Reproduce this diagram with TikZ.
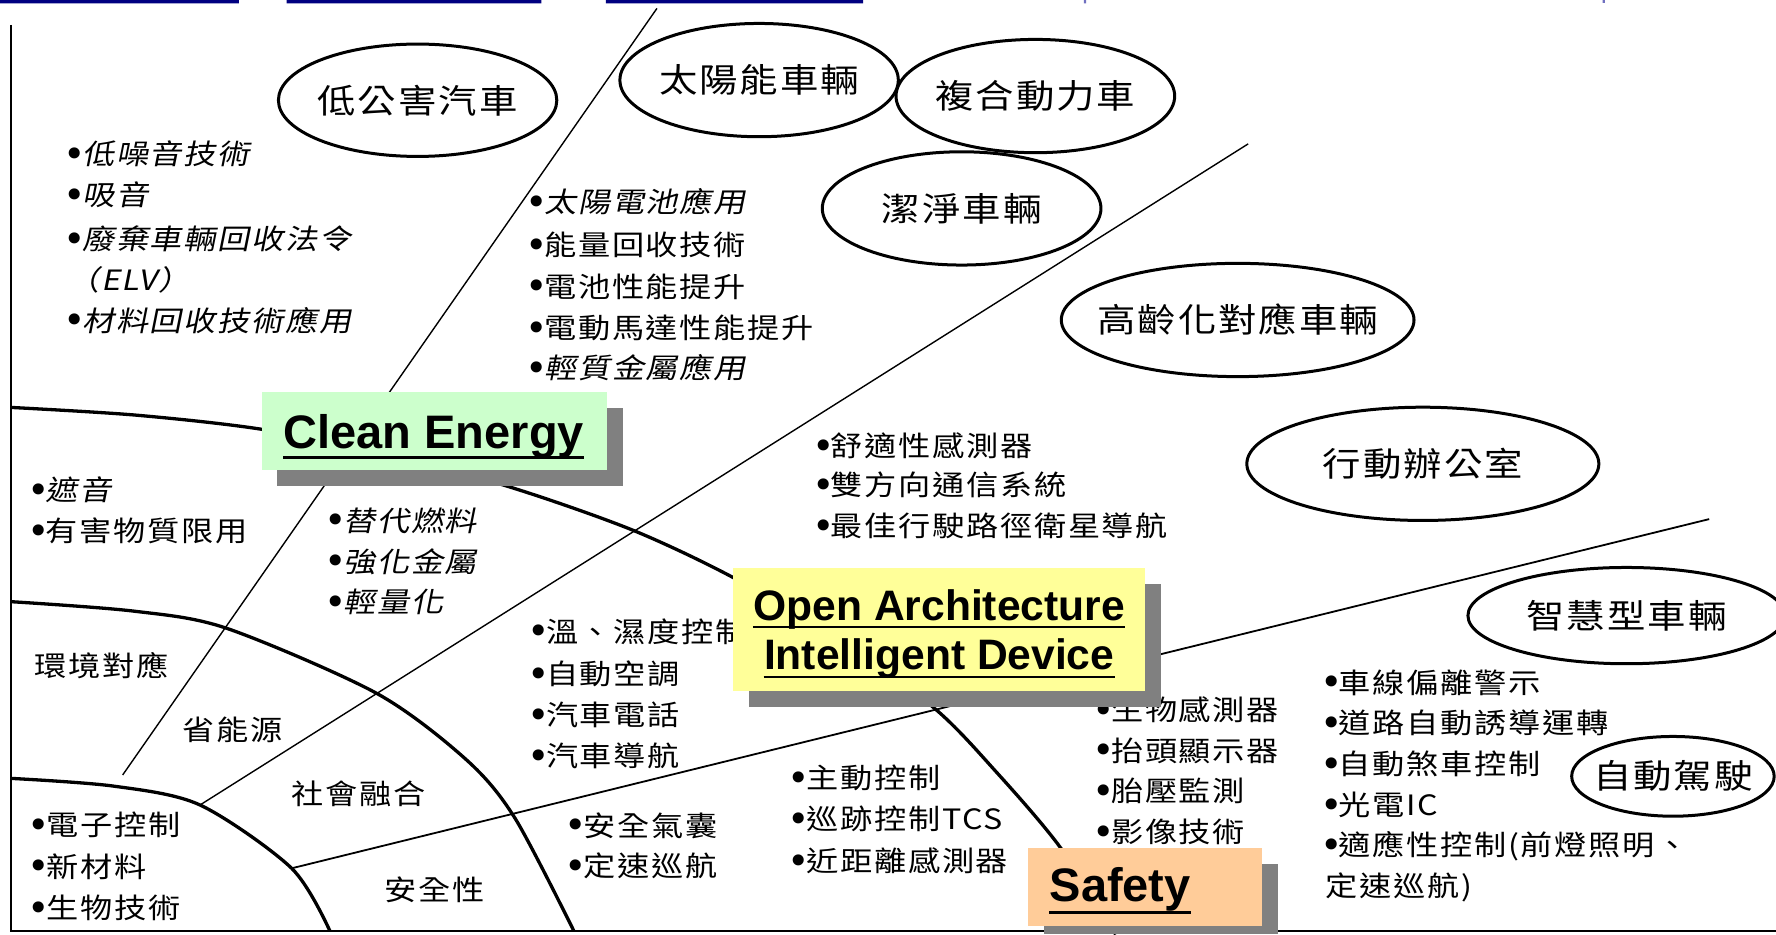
\documentclass[tikz,border=0pt]{standalone}
\usepackage{fontspec}
\usetikzlibrary{shapes.geometric}
\newfontfamily\cjk{Noto Sans CJK TC}[FakeStretch=1.15,LetterSpace=6]
\newfontfamily\cjkit{Noto Sans CJK TC}[FakeStretch=1.15,LetterSpace=6,FakeSlant=0.2]
\newfontfamily\arb{Liberation Sans Bold}
\newfontfamily\djv{DejaVu Sans}
\newcommand\bu{\makebox[7.5pt][c]{\raisebox{-1.4pt}{\djv\fontsize{19}{19}\selectfont •}}}
\newcommand\ctr[1]{\makebox[0pt][c]{#1}}
\definecolor{navybar}{HTML}{000080}
\definecolor{tickblue}{HTML}{7070C0}
\definecolor{cegreen}{HTML}{CCFFCC}
\definecolor{oayellow}{HTML}{FFFF99}
\definecolor{sforange}{HTML}{FFCC99}
\definecolor{shadowgray}{HTML}{808080}
\tikzset{
  framel/.style={line width=1.3pt},
  arcl/.style={line width=1.65pt},
  thinl/.style={line width=0.7pt},
  midl/.style={line width=0.9pt},
  ell/.style={ellipse, draw, line width=1.5pt, fill=white, inner sep=0pt,
    font=\cjk\fontsize{16.7}{19}\selectfont},
  lst/.style={anchor=west, inner sep=0pt, font=\cjk\fontsize{14}{16}\selectfont},
  lsti/.style={anchor=west, inner sep=0pt, font=\cjkit\fontsize{14}{16}\selectfont},
  boxtxt/.style={anchor=base, inner sep=0pt},
}
\begin{document}
\begin{tikzpicture}[x=0.56633pt,y=-0.56633pt]
\useasboundingbox (0,0) rectangle (1568,825);
\fill[white] (0,0) rectangle (1568,825);
% top bars
\fill[navybar] (0,0) rectangle (211,3) (253,0) rectangle (478,3) (535,0) rectangle (762,3);
\fill[tickblue] (957,0) rectangle (959,3) (1415,0) rectangle (1417,2.5);
% frame
\coordinate (ftop) at (9.7,22);
\coordinate (fcorner) at (9.7,822);
\coordinate (fright) at (1568,822);
\draw[framel] (ftop) -- (fcorner) -- (fright);
% arcs
\draw[arcl] plot[smooth] coordinates {(9.7,359.7) (120,366.5) (231,379) (339,401) (447,429) (557,467.4) (647.5,510) (736,563) (824,624.5) (880,682) (936,748) (985,825)};
\draw[arcl] plot[smooth] coordinates {(9.7,531.2) (117.7,539.5) (200.1,554.7) (332.5,612.1) (412,671) (454.7,722.4) (506.7,822)};
\draw[arcl] plot[smooth] coordinates {(9.7,687.2) (100,694) (176.6,710.7) (257.5,766.6) (291.3,822)};
% straight dividers
\coordinate (l1a) at (580,7.4);   \coordinate (l1b) at (108.3,684.2);
\coordinate (l2a) at (1102,127);  \coordinate (l2b) at (176.6,710.7);
\coordinate (l3a) at (257.5,766.6); \coordinate (l3b) at (1509,458.3);
\draw[thinl] (l1a) -- (l1b);
\draw[thinl] (l2a) -- (l2b);
\draw[midl] (l3a) -- (l3b);
% ellipses
\node[ell, minimum width={245.8*0.56633pt}, minimum height={99.2*0.56633pt}] (e1) at (368.7,88.5) {\ctr{低公害汽車}};
\node[ell, minimum width={245.8*0.56633pt}, minimum height={100*0.56633pt}] (e2) at (670.2,70.7) {\ctr{太陽能車輛}};
\node[ell, minimum width={246*0.56633pt}, minimum height={100*0.56633pt}] (e3) at (914.1,84.8) {\ctr{複合動力車}};
\node[ell, minimum width={246*0.56633pt}, minimum height={100*0.56633pt}] (e4) at (849,184) {\ctr{潔淨車輛}};
\node[ell, minimum width={311.4*0.56633pt}, minimum height={100*0.56633pt}] (e5) at (1092.7,282.5) {\ctr{高齡化對應車輛}};
\node[ell, minimum width={310.8*0.56633pt}, minimum height={100*0.56633pt}] (e6) at (1256.2,409.5) {\ctr{行動辦公室}};
\node[ell, minimum width={280*0.56633pt}, minimum height={85*0.56633pt}] (e7) at (1436,543.5) {\ctr{智慧型車輛}};
\node[ell, minimum width={178.8*0.56633pt}, minimum height={70.4*0.56633pt}] (e8) at (1477,685.4) {\ctr{自動駕駛}};
% text lists
\node[lsti] (t1) at (59,136) {\bu 低噪音技術};
\node[lsti] (t2) at (59,172.5) {\bu 吸音};
\node[lsti] (t3) at (59,211) {\bu 廢棄車輛回收法令};
\node[lsti] (t4) at (59,247.2) {（ELV）};
\node[lsti] (t5) at (59,283) {\bu 材料回收技術應用};
\node[lsti] (t6) at (467,178) {\bu 太陽電池應用};
\node[lst] (t7) at (467,216.3) {\bu 能量回收技術};
\node[lst] (t8) at (467,253.1) {\bu 電池性能提升};
\node[lst] (t9) at (467,289.9) {\bu 電動馬達性能提升};
\node[lsti] (t10) at (467,325.2) {\bu 輕質金屬應用};
\node[lsti] (t11) at (27,432.8) {\bu 遮音};
\node[lst] (t12) at (27,468.9) {\bu 有害物質限用};
\node[lsti] (t13) at (289.5,459.8) {\bu 替代燃料};
\node[lsti] (t14) at (289.5,495.9) {\bu 強化金屬};
\node[lsti] (t15) at (289.5,532) {\bu 輕量化};
\node[lst] (t16) at (720,393.7) {\bu 舒適性感測器};
\node[lst] (t17) at (720,428.3) {\bu 雙方向通信系統};
\node[lst] (t18) at (720,464.4) {\bu 最佳行駛路徑衛星導航};
\node[lst] (t19) at (468.5,557.6) {\bu 溫、濕度控制};
\node[lst] (t20) at (468.5,595.2) {\bu 自動空調};
\node[lst] (t21) at (468.5,631.2) {\bu 汽車電話};
\node[lst] (t22) at (468.5,667.3) {\bu 汽車導航};
\node[lst] (t23) at (501.5,729) {\bu 安全氣囊};
\node[lst] (t24) at (501.5,765) {\bu 定速巡航};
\node[lst] (t25) at (698.5,686.9) {\bu 主動控制};
\node[lst] (t26) at (698.5,723) {\bu 巡跡控制TCS};
\node[lst] (t27) at (698.5,760.5) {\bu 近距離感測器};
\node[lst] (t28) at (967.5,626.7) {\bu 生物感測器};
\node[lst] (t29) at (967.5,662.8) {\bu 抬頭顯示器};
\node[lst] (t30) at (967.5,698.9) {\bu 胎壓監測};
\node[lst] (t31) at (967.5,735) {\bu 影像技術};
\node[lst] (t32) at (1168.5,602.7) {\bu 車線偏離警示};
\node[lst] (t33) at (1168.5,638.8) {\bu 道路自動誘導運轉};
\node[lst] (t34) at (1168.5,674.8) {\bu 自動煞車控制};
\node[lst] (t35) at (1168.5,710.9) {\bu 光電IC};
\node[lst] (t36) at (1168.5,747) {\bu 適應性控制(前燈照明、};
\node[lst] (t37) at (1170,783.1) {定速巡航)};
\node[lst] (t38) at (27.5,728.4) {\bu 電子控制};
\node[lst] (t39) at (27.5,765.2) {\bu 新材料};
\node[lst] (t40) at (27.5,801.9) {\bu 生物技術};
\node[lst] (s1) at (30,588) {環境對應};
\node[lst] (s2) at (161,644.5) {省能源};
\node[lst] (s3) at (257,700.4) {社會融合};
\node[lst] (s4) at (339,785.7) {安全性};
% Clean Energy box
\fill[shadowgray] (244.3,360.5) rectangle (549.7,429);
\fill[cegreen] (231,346.4) rectangle (535.6,415);
\node[boxtxt, font=\arb\fontsize{23.5}{28}\selectfont] (ce) at (383,395.8) {Clean Energy};
\draw[line width=1.6pt] ([yshift=-4.7pt]ce.base west) -- ([yshift=-4.7pt]ce.base east);
% Open Architecture box
\fill[shadowgray] (661.5,515.9) rectangle (1024.7,623.9);
\fill[oayellow] (647.4,501.7) rectangle (1010.9,609.8);
\node[boxtxt, font=\arb\fontsize{21.3}{25}\selectfont] (oa1) at (829.2,547.4) {Open Architecture};
\node[boxtxt, font=\arb\fontsize{21.3}{25}\selectfont] (oa2) at (829.2,591.5) {Intelligent Device};
\draw[line width=1pt] ([yshift=-3.6pt]oa1.base west) -- ([yshift=-3.6pt]oa1.base east);
\draw[line width=1pt] ([yshift=-3.6pt]oa2.base west) -- ([yshift=-3.6pt]oa2.base east);
% Safety box
\fill[shadowgray] (922,763) rectangle (1128,825);
\fill[sforange] (907.8,748.9) rectangle (1113.9,817.2);
\node[boxtxt, anchor=base west, font=\arb\fontsize{23.5}{28}\selectfont] (sf) at (926.4,796) {Safety};
\draw[line width=1.6pt] ([yshift=-5.3pt]sf.base west) -- ([yshift=-5.3pt]sf.base east);
\end{tikzpicture}
\end{document}
